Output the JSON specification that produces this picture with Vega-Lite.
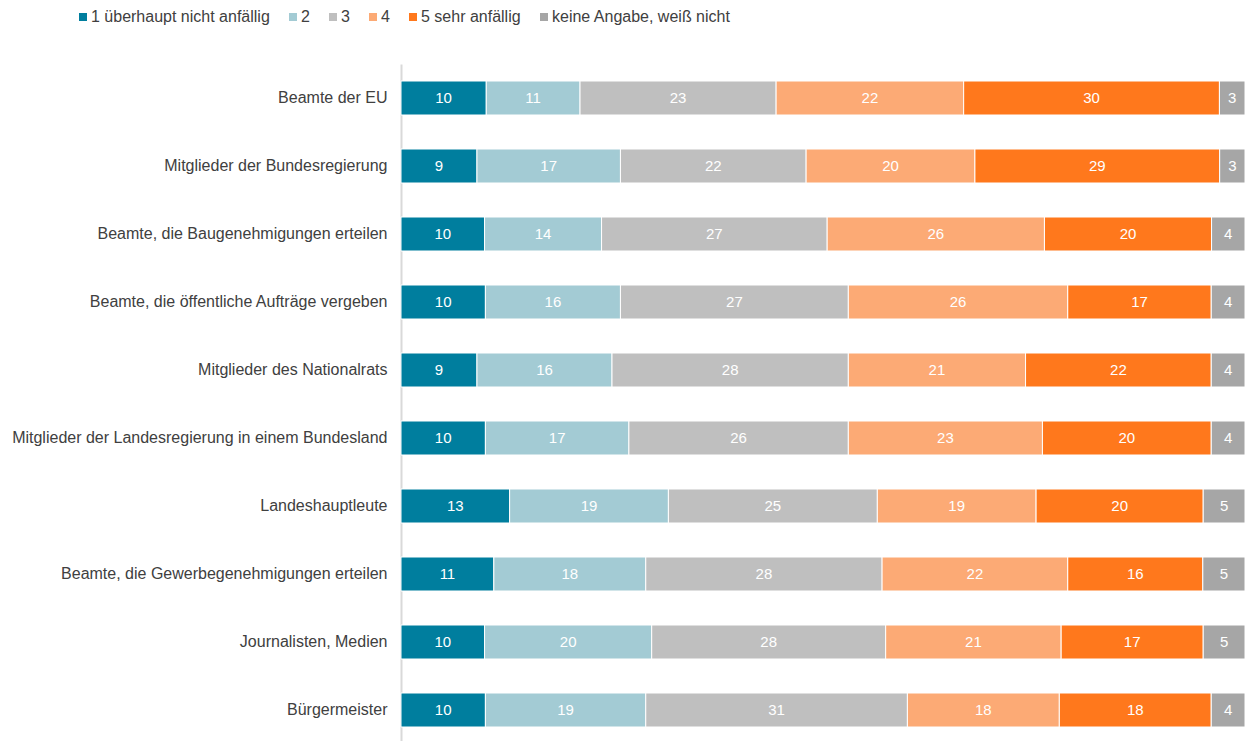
{
  "$schema": "https://vega.github.io/schema/vega-lite/v6.json",
  "autosize": "none",
  "width": 844,
  "height": 680,
  "padding": {"left": 401, "top": 64, "right": 4, "bottom": 0},
  "background": "white",
  "config": {
    "font": "Liberation Sans",
    "view": {"stroke": null}
  },
  "data": {
    "values": [
      {"g": "Beamte der EU", "k": "1 überhaupt nicht anfällig", "v": 10},
      {"g": "Beamte der EU", "k": "2", "v": 11},
      {"g": "Beamte der EU", "k": "3", "v": 23},
      {"g": "Beamte der EU", "k": "4", "v": 22},
      {"g": "Beamte der EU", "k": "5 sehr anfällig", "v": 30},
      {"g": "Beamte der EU", "k": "keine Angabe, weiß nicht", "v": 3},
      {"g": "Mitglieder der Bundesregierung", "k": "1 überhaupt nicht anfällig", "v": 9},
      {"g": "Mitglieder der Bundesregierung", "k": "2", "v": 17},
      {"g": "Mitglieder der Bundesregierung", "k": "3", "v": 22},
      {"g": "Mitglieder der Bundesregierung", "k": "4", "v": 20},
      {"g": "Mitglieder der Bundesregierung", "k": "5 sehr anfällig", "v": 29},
      {"g": "Mitglieder der Bundesregierung", "k": "keine Angabe, weiß nicht", "v": 3},
      {"g": "Beamte, die Baugenehmigungen erteilen", "k": "1 überhaupt nicht anfällig", "v": 10},
      {"g": "Beamte, die Baugenehmigungen erteilen", "k": "2", "v": 14},
      {"g": "Beamte, die Baugenehmigungen erteilen", "k": "3", "v": 27},
      {"g": "Beamte, die Baugenehmigungen erteilen", "k": "4", "v": 26},
      {"g": "Beamte, die Baugenehmigungen erteilen", "k": "5 sehr anfällig", "v": 20},
      {"g": "Beamte, die Baugenehmigungen erteilen", "k": "keine Angabe, weiß nicht", "v": 4},
      {"g": "Beamte, die öffentliche Aufträge vergeben", "k": "1 überhaupt nicht anfällig", "v": 10},
      {"g": "Beamte, die öffentliche Aufträge vergeben", "k": "2", "v": 16},
      {"g": "Beamte, die öffentliche Aufträge vergeben", "k": "3", "v": 27},
      {"g": "Beamte, die öffentliche Aufträge vergeben", "k": "4", "v": 26},
      {"g": "Beamte, die öffentliche Aufträge vergeben", "k": "5 sehr anfällig", "v": 17},
      {"g": "Beamte, die öffentliche Aufträge vergeben", "k": "keine Angabe, weiß nicht", "v": 4},
      {"g": "Mitglieder des Nationalrats", "k": "1 überhaupt nicht anfällig", "v": 9},
      {"g": "Mitglieder des Nationalrats", "k": "2", "v": 16},
      {"g": "Mitglieder des Nationalrats", "k": "3", "v": 28},
      {"g": "Mitglieder des Nationalrats", "k": "4", "v": 21},
      {"g": "Mitglieder des Nationalrats", "k": "5 sehr anfällig", "v": 22},
      {"g": "Mitglieder des Nationalrats", "k": "keine Angabe, weiß nicht", "v": 4},
      {"g": "Mitglieder der Landesregierung in einem Bundesland", "k": "1 überhaupt nicht anfällig", "v": 10},
      {"g": "Mitglieder der Landesregierung in einem Bundesland", "k": "2", "v": 17},
      {"g": "Mitglieder der Landesregierung in einem Bundesland", "k": "3", "v": 26},
      {"g": "Mitglieder der Landesregierung in einem Bundesland", "k": "4", "v": 23},
      {"g": "Mitglieder der Landesregierung in einem Bundesland", "k": "5 sehr anfällig", "v": 20},
      {"g": "Mitglieder der Landesregierung in einem Bundesland", "k": "keine Angabe, weiß nicht", "v": 4},
      {"g": "Landeshauptleute", "k": "1 überhaupt nicht anfällig", "v": 13},
      {"g": "Landeshauptleute", "k": "2", "v": 19},
      {"g": "Landeshauptleute", "k": "3", "v": 25},
      {"g": "Landeshauptleute", "k": "4", "v": 19},
      {"g": "Landeshauptleute", "k": "5 sehr anfällig", "v": 20},
      {"g": "Landeshauptleute", "k": "keine Angabe, weiß nicht", "v": 5},
      {"g": "Beamte, die Gewerbegenehmigungen erteilen", "k": "1 überhaupt nicht anfällig", "v": 11},
      {"g": "Beamte, die Gewerbegenehmigungen erteilen", "k": "2", "v": 18},
      {"g": "Beamte, die Gewerbegenehmigungen erteilen", "k": "3", "v": 28},
      {"g": "Beamte, die Gewerbegenehmigungen erteilen", "k": "4", "v": 22},
      {"g": "Beamte, die Gewerbegenehmigungen erteilen", "k": "5 sehr anfällig", "v": 16},
      {"g": "Beamte, die Gewerbegenehmigungen erteilen", "k": "keine Angabe, weiß nicht", "v": 5},
      {"g": "Journalisten, Medien", "k": "1 überhaupt nicht anfällig", "v": 10},
      {"g": "Journalisten, Medien", "k": "2", "v": 20},
      {"g": "Journalisten, Medien", "k": "3", "v": 28},
      {"g": "Journalisten, Medien", "k": "4", "v": 21},
      {"g": "Journalisten, Medien", "k": "5 sehr anfällig", "v": 17},
      {"g": "Journalisten, Medien", "k": "keine Angabe, weiß nicht", "v": 5},
      {"g": "Bürgermeister", "k": "1 überhaupt nicht anfällig", "v": 10},
      {"g": "Bürgermeister", "k": "2", "v": 19},
      {"g": "Bürgermeister", "k": "3", "v": 31},
      {"g": "Bürgermeister", "k": "4", "v": 18},
      {"g": "Bürgermeister", "k": "5 sehr anfällig", "v": 18},
      {"g": "Bürgermeister", "k": "keine Angabe, weiß nicht", "v": 4}
    ]
  },
  "encoding": {
    "y": {
      "field": "g",
      "type": "nominal",
      "sort": null,
      "title": null,
      "scale": {"paddingInner": 0.5, "paddingOuter": 0.25},
      "axis": {
        "ticks": false,
        "labelFontSize": 16,
        "labelColor": "#404040",
        "labelPadding": 14,
        "labelLimit": 500,
        "domainColor": "#D9D9D9",
        "domainWidth": 2
      }
    }
  },
  "layer": [
    {
      "mark": {"type": "bar", "stroke": "white", "strokeWidth": 1},
      "encoding": {
        "x": {"field": "v", "type": "quantitative", "stack": "normalize", "axis": null},
        "color": {
          "field": "k",
          "type": "nominal",
          "title": null,
          "scale": {
            "domain": ["1 überhaupt nicht anfällig", "2", "3", "4", "5 sehr anfällig", "keine Angabe, weiß nicht"],
            "range": ["#007E9E", "#A3CBD4", "#BFBFBF", "#FCAA75", "#FF781C", "#A6A6A6"]
          },
          "legend": {
            "orient": "none",
            "direction": "horizontal",
            "legendX": -326,
            "legendY": -55,
            "padding": 0,
            "symbolType": "square",
            "symbolSize": 64,
            "symbolStrokeWidth": 0,
            "labelFontSize": 16,
            "labelColor": "#404040",
            "labelOffset": 0,
            "labelLimit": 300,
            "columnPadding": 15
          }
        },
        "order": {"field": "k", "sort": "ascending"}
      }
    },
    {
      "mark": {"type": "text", "color": "white", "fontSize": 15, "align": "center", "baseline": "middle"},
      "encoding": {
        "x": {"field": "v", "type": "quantitative", "stack": "normalize", "bandPosition": 0.5},
        "text": {"field": "v", "type": "quantitative"},
        "detail": {"field": "k", "type": "nominal"},
        "order": {"field": "k", "sort": "ascending"}
      }
    }
  ]
}
